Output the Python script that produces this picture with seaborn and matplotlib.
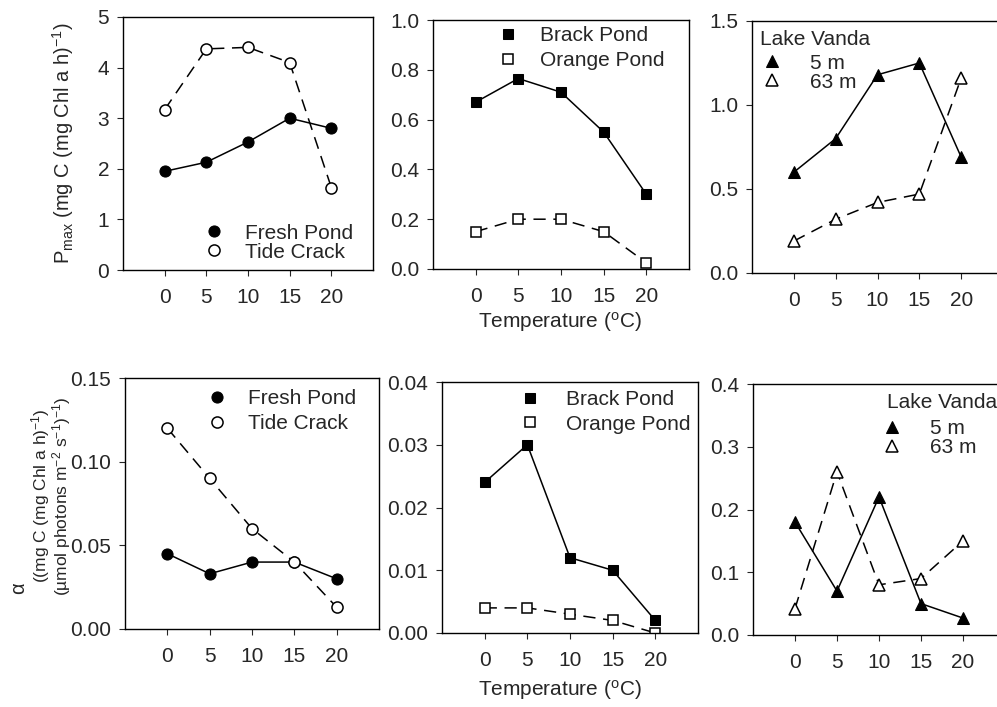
import matplotlib
matplotlib.use("Agg")
import matplotlib.pyplot as plt
import seaborn as sns


# =====================
# Data
# =====================

temps = [0, 5, 10, 15, 20]

# Pmax
pmax_fresh = [1.95, 2.13, 2.53, 3.0, 2.8]
pmax_tide = [3.17, 4.37, 4.4, 4.1, 1.63]
pmax_brack = [0.67, 0.765, 0.71, 0.55, 0.30]
pmax_orange = [0.15, 0.20, 0.20, 0.15, 0.025]
pmax_v5 = [0.60, 0.80, 1.18, 1.25, 0.69]
pmax_v63 = [0.19, 0.32, 0.42, 0.47, 1.16]

# alpha
alpha_fresh = [0.045, 0.033, 0.040, 0.040, 0.030]
alpha_tide = [0.120, 0.090, 0.060, 0.040, 0.013]
alpha_brack = [0.024, 0.030, 0.012, 0.010, 0.002]
alpha_orange = [0.004, 0.004, 0.003, 0.002, 0.0]
alpha_v5 = [0.18, 0.07, 0.22, 0.05, 0.027]
alpha_v63 = [0.042, 0.26, 0.08, 0.09, 0.15]


# =====================
# Style
# =====================

sns.set_style("ticks")
plt.rcParams["font.family"] = ["Liberation Sans", "DejaVu Sans"]
plt.rcParams["mathtext.fontset"] = "custom"
plt.rcParams["mathtext.rm"] = "Liberation Sans"
plt.rcParams["mathtext.it"] = "Liberation Sans:italic"

FS = 15
DASH = (0, (8, 5))

fig = plt.figure(figsize=(9.97, 7.07), dpi=100)
W, H = 997.0, 707.0


def make_ax(left, right, top, bottom):
    return fig.add_axes([
        left / W,
        (H - bottom) / H,
        (right - left) / W,
        (bottom - top) / H
    ])


def draw_pair(ax, solid, dashed, marker, labels, ms):
    sns.lineplot(
        x=temps, y=solid, ax=ax,
        color="black", linewidth=1.1,
        marker=marker, markersize=ms,
        markerfacecolor="black", markeredgecolor="black",
        label=labels[0]
    )
    sns.lineplot(
        x=temps, y=dashed, ax=ax,
        color="black", linewidth=1.1, linestyle=DASH,
        marker=marker, markersize=ms,
        markerfacecolor="white", markeredgecolor="black",
        markeredgewidth=1.1,
        label=labels[1]
    )


def finish(ax, yticks, fmt):
    ax.set_xlim(-5, 25)
    ax.set_xticks(temps)
    ax.set_ylim(yticks[0], yticks[-1])
    ax.set_yticks(yticks)
    ax.set_yticklabels([fmt.format(v) for v in yticks])
    ax.tick_params(labelsize=FS, direction="out", length=4, width=0.8)
    ax.tick_params(axis="x", pad=9)
    ax.tick_params(axis="y", pad=6)
    ax.set_xlabel("")
    ax.set_ylabel("")
    for s in ax.spines.values():
        s.set_linewidth(1.0)
        s.set_color("black")


def add_legend(ax, loc, anchor, spacing, textpad):
    ax.legend(
        loc=loc, bbox_to_anchor=anchor, frameon=False,
        fontsize=FS, handlelength=0, handletextpad=textpad,
        labelspacing=spacing, borderaxespad=0.1, borderpad=0.3
    )


# =====================
# Top row: Pmax
# =====================

ax1 = make_ax(123, 373, 17, 270)
draw_pair(ax1, pmax_fresh, pmax_tide, "o", ["Fresh Pond", "Tide Crack"], 8)
finish(ax1, [0, 1, 2, 3, 4, 5], "{:.0f}")
add_legend(ax1, "lower left", (0.33, 0.0), 0.0, 1.5)

ax2 = make_ax(433, 689, 20, 269)
draw_pair(ax2, pmax_brack, pmax_orange, "s", ["Brack Pond", "Orange Pond"], 7)
finish(ax2, [0.0, 0.2, 0.4, 0.6, 0.8, 1.0], "{:.1f}")
add_legend(ax2, "upper left", (0.26, 1.01), 0.3, 1.55)

ax3 = make_ax(752, 1003, 21, 273)
draw_pair(ax3, pmax_v5, pmax_v63, "^", ["5 m", "63 m"], 8)
finish(ax3, [0.0, 0.5, 1.0, 1.5], "{:.1f}")
ax3.text(0.032, 0.925, "Lake Vanda", transform=ax3.transAxes,
         ha="left", va="center", fontsize=FS)
add_legend(ax3, "upper left", (0.048, 0.903), 0.0, 1.8)


# =====================
# Bottom row: alpha
# =====================

ax4 = make_ax(125, 379, 378, 629)
draw_pair(ax4, alpha_fresh, alpha_tide, "o", ["Fresh Pond", "Tide Crack"], 8)
finish(ax4, [0.0, 0.05, 0.10, 0.15], "{:.2f}")
add_legend(ax4, "upper left", (0.33, 0.99), 0.3, 1.5)

ax5 = make_ax(442, 698, 382, 633)
draw_pair(ax5, alpha_brack, alpha_orange, "s", ["Brack Pond", "Orange Pond"], 7)
finish(ax5, [0.0, 0.01, 0.02, 0.03, 0.04], "{:.2f}")
add_legend(ax5, "upper left", (0.31, 1.0), 0.25, 1.75)

ax6 = make_ax(753, 1005, 384, 635)
draw_pair(ax6, alpha_v5, alpha_v63, "^", ["5 m", "63 m"], 8)
finish(ax6, [0.0, 0.1, 0.2, 0.3, 0.4], "{:.1f}")
ax6.text(0.532, 0.928, "Lake Vanda", transform=ax6.transAxes,
         ha="left", va="center", fontsize=FS)
add_legend(ax6, "upper left", (0.520, 0.894), 0.0, 1.8)


# =====================
# Axis labels
# =====================

fig.text(63 / W, 1 - 143 / H,
         r"P$_{\mathrm{max}}$ (mg C (mg Chl a h)$^{\mathrm{-1}}$)",
         rotation=90, ha="center", va="center", fontsize=14.5)

fig.text(19 / W, 1 - 588 / H, "α",
         rotation=90, ha="center", va="center", fontsize=14.5)
fig.text(51 / W, 1 - 496 / H,
         "((mg C (mg Chl a h)$^{\\mathrm{-1}}$)\n"
         "(µmol photons m$^{\\mathrm{-2}}$ s$^{\\mathrm{-1}}$)$^{\\mathrm{-1}}$)",
         rotation=90, ha="center", va="center", fontsize=12.5,
         linespacing=0.9)

fig.text(560 / W, 1 - 322 / H, "Temperature ($^{\\mathrm{o}}$C)",
         ha="center", va="center", fontsize=FS)
fig.text(560 / W, 1 - 690 / H, "Temperature ($^{\\mathrm{o}}$C)",
         ha="center", va="center", fontsize=FS)

fig.savefig("out.png", dpi=100, facecolor="white")
